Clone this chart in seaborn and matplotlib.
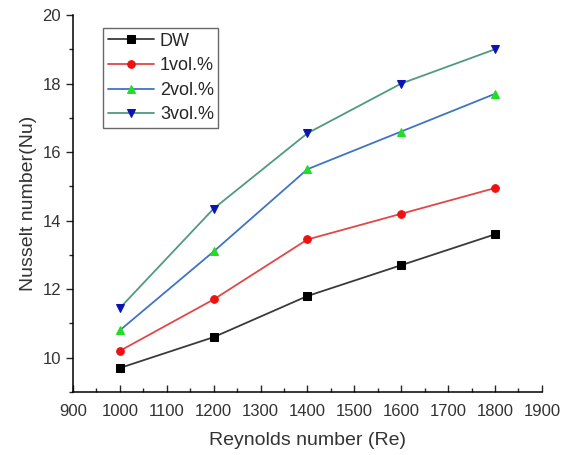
import numpy as np
import pandas as pd
import seaborn as sns
import matplotlib.pyplot as plt
from matplotlib.ticker import MultipleLocator

# datos
reynolds = [1000, 1200, 1400, 1600, 1800]
nu_dw = [9.7, 10.6, 11.8, 12.7, 13.6]
nu_1vol = [10.2, 11.7, 13.45, 14.2, 14.95]
nu_2vol = [10.8, 13.1, 15.5, 16.6, 17.7]
nu_3vol = [11.45, 14.35, 16.55, 18.0, 19.0]

series = ['DW', '1vol.%', '2vol.%', '3vol.%']
valores = [nu_dw, nu_1vol, nu_2vol, nu_3vol]
colores_linea = ['#3a3a3a', '#e04848', '#3f74c4', '#4f9a80']
colores_marcador = ['#000000', '#ee1111', '#22dd22', '#0a14b4']
marcadores = ['s', 'o', '^', 'v']

sns.set_style('ticks')
plt.rcParams['font.family'] = ['Liberation Sans', 'DejaVu Sans']

fig = plt.figure(figsize=(5.68, 4.55), dpi=100)
ax = fig.add_axes([0.1285, 0.1385, 0.8255, 0.8285])

for nombre, y, cl, cm, mk in zip(series, valores, colores_linea, colores_marcador, marcadores):
    df = pd.DataFrame({'Re': reynolds, 'Nu': y})
    sns.lineplot(x='Re', y='Nu', data=df, ax=ax, color=cl, linewidth=1.3,
                 marker=mk, markersize=5.5, markerfacecolor=cm, markeredgecolor=cm,
                 label=nombre)

ax.set_xlim(900, 1900)
ax.set_ylim(9, 20)
ax.xaxis.set_major_locator(MultipleLocator(100))
ax.xaxis.set_minor_locator(MultipleLocator(50))
ax.yaxis.set_major_locator(MultipleLocator(2))
ax.yaxis.set_minor_locator(MultipleLocator(1))
ax.tick_params(axis='x', which='both', direction='in', labelsize=12, pad=9, labelcolor='#333333')
ax.tick_params(axis='y', which='both', direction='out', labelsize=12, labelcolor='#333333')
ax.tick_params(which='major', length=5, width=1)
ax.tick_params(which='minor', length=3, width=1)
for s in ['top', 'right']:
    ax.spines[s].set_visible(False)
for s in ['left', 'bottom']:
    ax.spines[s].set_linewidth(1.1)
    ax.spines[s].set_color('black')

ax.set_xlabel('Reynolds number (Re)', fontsize=14, color='#333333', labelpad=9)
ax.set_ylabel('Nusselt number(Nu)', fontsize=14, color='#333333', labelpad=4)

leg = ax.legend(loc='upper left', bbox_to_anchor=(0.064, 0.965), fontsize=13,
                frameon=True, fancybox=False, borderpad=0.25, labelspacing=0.42,
                handlelength=2.6, handletextpad=0.3, borderaxespad=0)
leg.get_frame().set_edgecolor('#444444')
leg.get_frame().set_linewidth(1)

fig.savefig('out.png', dpi=100)
